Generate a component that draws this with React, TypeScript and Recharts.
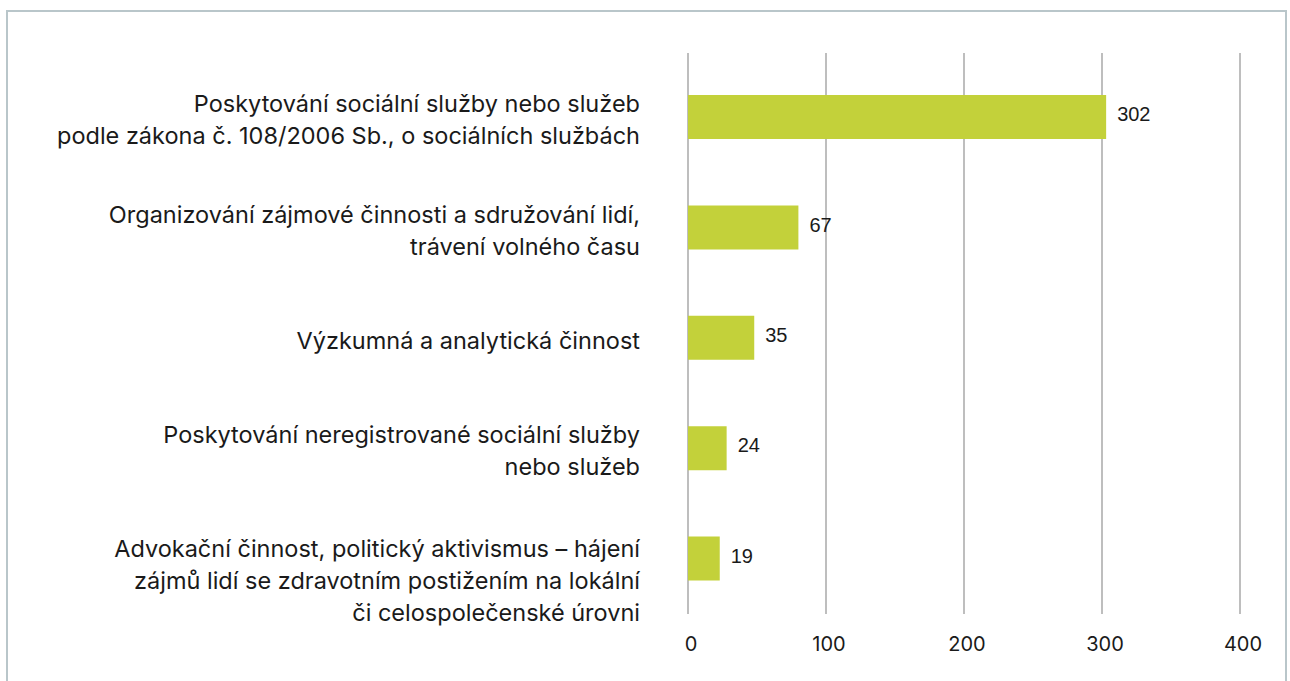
import { BarChart, Bar, XAxis, YAxis, CartesianGrid, LabelList } from "recharts";

const categories = [
  "Poskytování sociální služby nebo služeb\npodle zákona č. 108/2006 Sb., o sociálních službách",
  "Organizování zájmové činnosti a sdružování lidí,\ntrávení volného času",
  "Výzkumná a analytická činnost",
  "Poskytování neregistrované sociální služby\nnebo služeb",
  "Advokační činnost, politický aktivismus – hájení\nzájmů lidí se zdravotním postižením na lokální\nči celospolečenské úrovni",
];
// bar lengths as drawn in the picture
const barValues = [303, 80, 48, 28, 23];
// numbers printed next to the bars
const barLabels = [302, 67, 35, 24, 19];
const xTicks = [0, 100, 200, 300, 400];

const data = categories.map((name, i) => ({
  name,
  value: barValues[i],
  label: barLabels[i],
}));

const FONT = "Inter, 'Noto Sans', sans-serif";

function CategoryTick({ x, y, payload, index }: any) {
  const lines = String(payload.value).split("\n");
  const lh = 32;
  // three-line labels sit lower, like in the original
  const shift = lines.length > 2 ? 21 : 2;
  const start = y - ((lines.length - 1) * lh) / 2 + shift;
  return (
    <text
      x={x - 40}
      y={start}
      textAnchor="end"
      dominantBaseline="central"
      fontFamily={FONT}
      fontSize={23.5}
      fill="#1a1a1a"
      key={index}
    >
      {lines.map((l, i) => (
        <tspan key={i} x={x - 40} y={start + i * lh}>
          {l}
        </tspan>
      ))}
    </text>
  );
}

function ValueTick({ x, y, payload }: any) {
  return (
    <text
      x={x + 3}
      y={y + 22}
      textAnchor="middle"
      dominantBaseline="central"
      fontFamily={FONT}
      fontSize={20}
      fill="#1a1a1a"
    >
      {payload.value}
    </text>
  );
}

export default function App() {
  return (
    <div style={{ position: "absolute", left: 0, top: 0, width: 1290, height: 681, overflow: "hidden", background: "#fff" }}>
      <div
        style={{
          position: "absolute",
          left: 6,
          top: 10,
          width: 1281,
          height: 720,
          border: "2px solid #b9c6ca",
          boxSizing: "border-box",
        }}
      />
      <div style={{ position: "absolute", left: 0, top: 0 }}>
        <BarChart
          width={1290}
          height={681}
          data={data}
          layout="vertical"
          margin={{ top: 53, right: 50, bottom: 27, left: 0 }}
          barSize={44}
        >
          <CartesianGrid horizontal={false} stroke="#a8a8a8" strokeWidth={1.5} />
          <XAxis
            type="number"
            domain={[0, 400]}
            ticks={xTicks}
            axisLine={false}
            tickLine={false}
            height={40}
            tick={<ValueTick />}
          />
          <YAxis
            type="category"
            dataKey="name"
            width={688}
            axisLine={false}
            tickLine={false}
            padding={{ top: 9, bottom: 0 }}
            tick={<CategoryTick />}
            interval={0}
          />
          <Bar dataKey="value" fill="#c3d13a" isAnimationActive={false}>
            <LabelList
              dataKey="label"
              position="right"
              offset={11}
              dy={-3}
              fill="#1a1a1a"
              fontSize={20}
              fontFamily="'Liberation Sans', Arial, sans-serif"
            />
          </Bar>
        </BarChart>
      </div>
    </div>
  );
}
